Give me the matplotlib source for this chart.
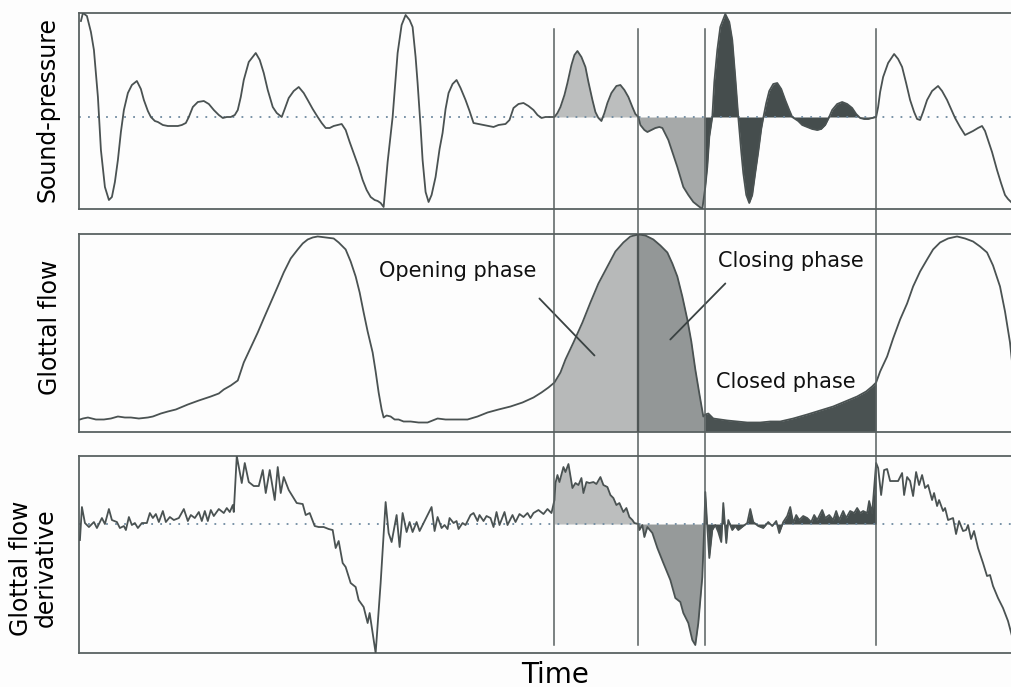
import numpy as np
import matplotlib
matplotlib.use("Agg")
import matplotlib.pyplot as plt
from matplotlib.lines import Line2D
from matplotlib.transforms import blended_transform_factory

plt.rcParams['font.family'] = ['DejaVu Sans']

# time is in arbitrary sample units; phase boundaries of the highlighted cycle
phase_times = [554, 638, 705, 876]   # opening start, flow peak, closure, next opening
phase_names = ["Opening phase", "Closing phase", "Closed phase"]
panel_labels = ["Sound-pressure", "Glottal flow", "Glottal flow\nderivative"]

# (time, amplitude)
sound_pressure = [
    (80, 96), (82, 104), (86, 101), (90, 85), (93, 67), (97, 20), (100, -33), (104, -70), (108, -83),
    (111, -80), (114, -65), (117, -43), (120, -15), (123, 7), (127, 24), (131, 32), (136, 36), (140, 28),
    (143, 17), (147, 6), (150, 0), (154, -4), (157, -5), (162, -8), (167, -9), (172, -9), (177, -9),
    (181, -8), (185, -6), (188, 0), (192, 10), (197, 15), (203, 16), (208, 13), (213, 7), (218, 2),
    (222, -1), (226, 0), (230, 0), (234, 2), (237, 7), (240, 20), (243, 37), (248, 55), (255, 64),
    (259, 57), (263, 44), (267, 27), (272, 10), (276, 4), (281, 0), (284, 8), (288, 19), (293, 26),
    (298, 30), (303, 24), (307, 17), (312, 8), (317, 0), (321, -6), (325, -11), (329, -11), (333, -9),
    (337, -8), (341, -7), (345, -13), (349, -25), (353, -36), (358, -50), (362, -63), (366, -73),
    (370, -80), (374, -83), (377, -84), (380, -86), (383, -90), (387, -45), (392, 0), (397, 64),
    (401, 92), (405, 102), (409, 97), (412, 90), (415, 60), (417, 34), (420, -10), (422, -43),
    (425, -75), (428, -85), (431, -78), (435, -60), (439, -32), (442, -16), (445, 8), (448, 24),
    (452, 33), (456, 37), (460, 29), (465, 17), (469, 6), (473, -6), (478, -7), (483, -8), (488, -9),
    (493, -10), (498, -8), (505, -7), (509, -3), (513, 9), (518, 13), (523, 14), (528, 11), (533, 7),
    (537, 2), (541, -1), (545, 0), (550, 0), (554, 0),
    (557, 4), (560, 10), (564, 22), (567, 34), (571, 52), (574, 62), (577, 66), (581, 60), (585, 50),
    (588, 35), (592, 17), (595, 5), (598, -1), (601, -4), (604, 4), (607, 14), (611, 24), (616, 31),
    (620, 32), (624, 27), (628, 20), (632, 10), (635, 3), (638, 0),
    (640, -8), (644, -13), (647, -15), (651, -13), (655, -11), (659, -10), (662, -11), (665, -17),
    (668, -23), (672, -35), (677, -50), (680, -60), (683, -70), (688, -78), (693, -85), (698, -89),
    (702, -92), (705, -70),
    (707, -50), (709, -20), (712, 0), (714, 35), (717, 67), (720, 90), (725, 103), (729, 95),
    (732, 77), (735, 40), (738, 0), (741, -35), (743, -56), (746, -78), (749, -86), (752, -78),
    (755, -56), (758, -35), (761, -12), (763, -1), (766, 14), (769, 26), (773, 33), (777, 34),
    (781, 28), (785, 17), (789, 7), (792, 0), (795, -2), (798, -4), (802, -8), (807, -10), (812, -12),
    (817, -13), (821, -12), (825, -8), (829, 0), (832, 7), (837, 13), (842, 15), (847, 13), (852, 9),
    (856, 3), (860, -1), (864, -2), (868, -2), (872, -1), (876, 0),
    (878, 10), (880, 25), (883, 40), (888, 54), (894, 63), (898, 58), (902, 50), (906, 34), (910, 17),
    (914, 5), (917, -2), (920, -3), (923, 5), (927, 17), (932, 26), (938, 31), (942, 26), (947, 17),
    (951, 8), (955, -1), (960, -10), (965, -18), (969, -16), (973, -14), (978, -11), (982, -9),
    (985, -14), (988, -23), (992, -35), (997, -53), (1001, -66), (1005, -78), (1008, -82), (1012, -86),
]

glottal_flow = [
    (79, 12), (82, 13), (87, 14), (95, 12), (103, 12), (110, 13), (117, 15), (124, 14), (130, 14),
    (138, 13), (147, 14), (152, 15), (160, 18), (167, 20), (175, 22), (187, 27), (198, 31), (210, 35),
    (218, 38), (223, 42), (230, 46), (237, 51), (240, 60), (243, 69), (250, 84), (257, 99), (263, 113),
    (270, 129), (277, 145), (283, 159), (290, 173), (297, 182), (302, 188), (307, 192), (312, 194),
    (317, 195), (325, 194), (333, 193), (338, 189), (342, 185), (345, 182), (350, 170), (355, 155),
    (359, 139), (363, 119), (367, 100), (372, 79), (375, 60), (378, 39), (381, 22), (383, 14),
    (386, 16), (390, 15), (394, 12), (398, 12), (403, 10), (410, 10), (418, 9), (423, 9), (427, 9),
    (432, 11), (437, 13), (445, 12), (455, 12), (467, 12), (477, 15), (487, 19), (498, 22), (510, 25),
    (522, 29), (533, 34), (541, 39), (548, 44), (554, 49),
    (557, 54), (560, 59), (565, 72), (573, 89), (582, 109), (590, 129), (598, 148), (607, 165),
    (615, 180), (623, 189), (630, 195), (638, 197),
    (645, 196), (653, 192), (660, 186), (667, 179), (672, 168), (677, 155), (682, 135), (687, 112),
    (691, 90), (695, 62), (699, 38), (703, 15), (705, 17),
    (708, 18), (711, 15), (713, 13), (720, 12), (727, 11), (737, 10), (747, 9), (760, 9), (770, 10),
    (780, 10), (793, 13), (807, 17), (820, 21), (833, 25), (845, 30), (857, 35), (866, 40), (872, 45),
    (876, 49),
    (880, 60), (887, 75), (893, 93), (900, 112), (907, 128), (913, 145), (920, 160), (927, 172),
    (933, 182), (940, 189), (948, 193), (957, 195), (965, 193), (973, 190), (980, 185), (987, 179),
    (993, 166), (1000, 145), (1005, 120), (1010, 89), (1012, 70),
]

flow_derivative = [
    (79, -16), (81, 17), (84, 1), (88, -3), (93, 2), (96, -4), (101, 6), (104, 0), (108, 15), (111, 4),
    (116, 2), (119, -4), (123, -2), (125, -6), (128, 7), (131, -1), (134, 1), (137, -4), (141, 1),
    (146, 1), (149, 11), (152, 6), (155, 10), (158, 2), (162, 13), (165, 2), (169, 7), (173, 4),
    (178, 6), (183, 15), (187, 3), (190, 9), (194, 6), (198, 12), (201, 3), (204, 13), (207, 3),
    (210, 14), (213, 8), (218, 15), (223, 11), (226, 16), (229, 12), (232, 19), (233, 12), (236, 68),
    (238, 57), (241, 41), (244, 61), (248, 42), (253, 38), (258, 38), (262, 54), (265, 31), (269, 54),
    (274, 24), (277, 57), (280, 31), (283, 47), (288, 34), (296, 21), (302, 20), (305, 9), (309, 11),
    (314, -2), (318, -3), (323, -3), (328, -5), (332, -6), (335, -24), (338, -17), (342, -39),
    (345, -43), (350, -59), (355, -63), (358, -76), (363, -83), (367, -99), (369, -89), (375, -129),
    (380, -59), (385, 22), (388, -9), (391, -18), (396, 9), (399, -23), (402, 11), (406, -8), (409, 2),
    (412, -8), (416, 2), (419, -7), (423, 1), (427, 9), (431, 17), (434, -7), (437, 7), (441, -4),
    (444, -1), (447, -5), (449, 6), (453, 1), (456, 3), (458, -5), (462, 1), (465, -1), (470, 9),
    (473, 11), (477, 3), (479, 9), (483, 3), (486, 8), (490, 6), (493, -3), (496, 12), (499, -1),
    (504, 12), (507, -1), (512, 9), (515, 2), (519, 10), (523, 7), (527, 11), (530, 6), (533, 11),
    (538, 14), (543, 10), (547, 15), (551, 11), (554, 24),
    (555, 41), (557, 49), (559, 42), (563, 57), (565, 52), (568, 60), (572, 36), (575, 41), (578, 39),
    (581, 46), (583, 31), (586, 42), (589, 41), (593, 42), (596, 40), (600, 47), (603, 39), (607, 37),
    (610, 29), (613, 26), (616, 19), (619, 21), (623, 12), (626, 16), (629, 7), (632, 4), (634, 1),
    (638, 0),
    (639, -6), (642, -1), (644, -13), (647, -3), (652, -9), (657, -24), (663, -39), (670, -56),
    (675, -74), (680, -78), (683, -89), (688, -99), (692, -116), (695, -121), (698, -99), (702, -53),
    (704, -1), (705, 32),
    (707, -3), (709, -34), (712, -6), (715, -1), (718, -8), (721, -18), (723, 21), (726, -19), (728, 4),
    (732, -6), (735, -2), (738, -6), (743, -2), (747, 1), (750, 15), (753, 2), (758, -2), (763, -4),
    (768, 2), (772, -2), (776, 3), (779, -9), (783, 2), (787, 8), (790, 17), (793, 1), (796, 9),
    (799, 4), (803, 8), (807, 6), (811, 2), (814, 9), (817, 4), (822, 14), (825, 6), (829, 9), (833, 4),
    (836, 13), (839, 4), (843, 13), (846, 6), (850, 13), (854, 11), (857, 16), (860, 11), (863, 13),
    (867, 11), (869, 23), (872, 11), (874, 36), (876, 61),
    (878, 56), (881, 29), (884, 54), (887, 55), (890, 43), (898, 43), (902, 51), (904, 29), (907, 47),
    (910, 43), (913, 28), (916, 52), (919, 39), (922, 49), (925, 36), (928, 39), (932, 24), (934, 31),
    (937, 18), (939, 24), (943, 13), (945, 16), (948, 4), (953, 6), (956, -10), (959, 3), (963, -7),
    (966, -6), (968, -1), (971, -15), (974, -7), (978, -24), (983, -39), (987, -52), (990, -51),
    (993, -62), (998, -74), (1003, -84), (1008, -97), (1012, -112),
]

# fill shades per panel: opening, closing, closed
phase_colors = [["#bcbebe", "#a6a9a9", "#454d4d"],
                ["#b7b9b9", "#939797", "#4a5252"],
                ["#bcbebe", "#969a9a", "#454d4d"]]
line_color = "#4a5252"
frame_color = "#5a6262"

fig = plt.figure(figsize=(10.12, 6.87), dpi=100)
fig.patch.set_facecolor("#fdfdfd")

rects = [[0.078, 0.6958, 0.922, 0.286],
         [0.078, 0.3719, 0.922, 0.2868],
         [0.078, 0.0502, 0.922, 0.286]]
ylims = [(-92, 104.5), (0, 197), (-128.5, 68)]
series = [sound_pressure, glottal_flow, flow_derivative]

axes = []
for rect, yl, data, cols in zip(rects, ylims, series, phase_colors):
    ax = fig.add_axes(rect)
    ax.set_facecolor("#fdfdfd")
    t, v = np.array(data, dtype=float).T
    base = yl[0] if data is glottal_flow else 0
    for k, col in enumerate(cols):
        m = (t >= phase_times[k]) & (t <= phase_times[k + 1])
        ax.fill_between(t[m], v[m], base, color=col, lw=0, zorder=1)
    ax.plot(t, v, color=line_color, lw=1.3, zorder=3)
    if data is not glottal_flow:
        ax.axhline(0, color="#6f8aa0", lw=1.3, ls=(0, (1, 4)), zorder=2)
    ax.set_xlim(78, 1012)
    ax.set_ylim(*yl)
    ax.set_xticks([])
    ax.set_yticks([])
    ax.spines["right"].set_visible(False)
    for s in ["top", "bottom", "left"]:
        ax.spines[s].set_color(frame_color)
        ax.spines[s].set_linewidth(1.3)
    axes.append(ax)

ax1, ax2, ax3 = axes

# dark boundary at the flow maximum
tf, vf = np.array(glottal_flow, dtype=float).T
ax2.vlines(phase_times[1], 0, vf[tf == phase_times[1]][0], color="#2f3535", lw=1.6, zorder=4)

# phase boundaries running through all three panels
tr = blended_transform_factory(ax1.transData, fig.transFigure)
for x in phase_times:
    fig.add_artist(Line2D([x, x], [1 - 29 / 687, 1 - 645 / 687], transform=tr,
                          color="#586060", lw=1.1, zorder=5))

# phase annotations
ax2.annotate("", xy=(596, 74), xytext=(537, 135),
             arrowprops=dict(arrowstyle="-", color="#3a4242", lw=1.3))
ax2.annotate("", xy=(668, 90), xytext=(727, 150),
             arrowprops=dict(arrowstyle="-", color="#3a4242", lw=1.3))
ax2.text(457, 160, phase_names[0], ha="center", va="center", fontsize=15, color="#111111")
ax2.text(791, 170, phase_names[1], ha="center", va="center", fontsize=15, color="#111111")
ax2.text(786, 49, phase_names[2], ha="center", va="center", fontsize=15, color="#111111")

# panel labels
fig.text(0.047, 0.84, panel_labels[0], rotation=90, ha="center", va="center", fontsize=17)
fig.text(0.049, 0.524, panel_labels[1], rotation=90, ha="center", va="center", fontsize=17)
fig.text(0.033, 0.173, panel_labels[2], rotation=90, ha="center", va="center", fontsize=17,
         linespacing=1.0, multialignment="center")
fig.text(0.548, 0.0175, "Time", ha="center", va="center", fontsize=20)

fig.savefig("out.png", dpi=100, facecolor=fig.get_facecolor())
